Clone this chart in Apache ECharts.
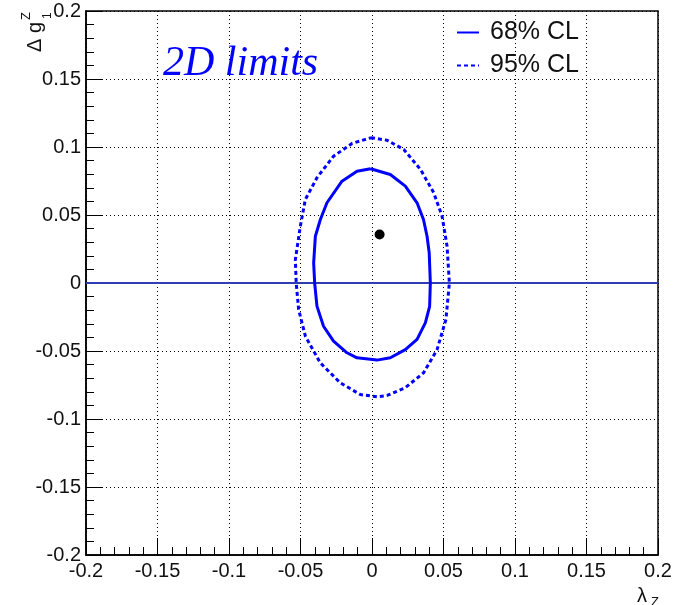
<!DOCTYPE html>
<html>
<head>
<meta charset="utf-8">
<script src="https://cdn.jsdelivr.net/npm/echarts@6/dist/echarts.min.js"></script>
<style>html,body{margin:0;padding:0;background:#fff;}#c{width:683px;height:605px;}</style>
</head>
<body>
<div id="c"></div>
<script>
// ---- data ----
const xTicks = [-0.2, -0.15, -0.1, -0.05, 0, 0.05, 0.1, 0.15, 0.2];
const yTicks = [-0.2, -0.15, -0.1, -0.05, 0, 0.05, 0.1, 0.15, 0.2];
const legendNames = ['68% CL', '95% CL'];
const contour68 = [
  [-0.001, 0.084], [0.0128, 0.0798], [0.0233, 0.0712], [0.0315, 0.059], [0.036, 0.0467],
  [0.0385, 0.0344], [0.040, 0.0222], [0.0408, 0.0], [0.0403, -0.0171], [0.0373, -0.0293],
  [0.0315, -0.0415], [0.0233, -0.049], [0.0128, -0.055], [0.0035, -0.0567], [-0.0105, -0.055],
  [-0.0175, -0.0513], [-0.0269, -0.0428], [-0.0339, -0.0318], [-0.0385, -0.017], [-0.0401, 0.0],
  [-0.0408, 0.0148], [-0.0396, 0.0344], [-0.0361, 0.0467], [-0.0315, 0.059], [-0.021, 0.0749],
  [-0.0105, 0.0822], [-0.001, 0.084]
];
const contour95 = [
  [-0.0007, 0.1068], [0.0105, 0.105], [0.0222, 0.0982], [0.0339, 0.0835], [0.0432, 0.0663],
  [0.049, 0.0491], [0.0525, 0.027], [0.0541, 0.0], [0.0517, -0.0268], [0.0455, -0.049],
  [0.0361, -0.066], [0.0233, -0.077], [0.0105, -0.0827], [0.0035, -0.0837], [-0.0082, -0.082],
  [-0.0222, -0.0734], [-0.0362, -0.0587], [-0.0466, -0.0391], [-0.0513, -0.0195], [-0.053, 0.0],
  [-0.0536, 0.0173], [-0.0501, 0.0418], [-0.0466, 0.0614], [-0.0385, 0.0774], [-0.0269, 0.0932],
  [-0.014, 0.1026], [-0.0007, 0.1068]
];
const bestFit = [[0.0053, 0.0357]];
const zeroLine = [[-0.2, 0], [0.2, 0]];

const FONT = 'Liberation Sans';
const chart = echarts.init(document.getElementById('c'), null, {renderer: 'canvas'});

function axisCommon(ticks) {
  return {
    type: 'value',
    min: ticks[0], max: ticks[ticks.length - 1], interval: ticks[1] - ticks[0],
    axisLine: {show: true, onZero: false, lineStyle: {color: '#000', width: 1.5}},
    axisTick: {show: true, inside: true, length: 17, lineStyle: {color: '#000', width: 1}},
    minorTick: {show: true, splitNumber: 5, length: 8, lineStyle: {color: '#000', width: 1}},
    splitLine: {show: true, lineStyle: {color: '#000', width: 1, type: [1, 3]}},
    axisLabel: {color: '#111', fontFamily: FONT, fontSize: 20, showMinLabel: true, showMaxLabel: true,
      formatter: v => String(Math.round(v * 1000) / 1000)}
  };
}

const xAxis = axisCommon(xTicks);
xAxis.axisLabel.margin = 6;
const yAxis = axisCommon(yTicks);
yAxis.axisLabel.margin = 5;

function legendFor(name, top) {
  return {data: [name], left: 451, top: top, orient: 'vertical', itemWidth: 22, itemHeight: 14,
    itemStyle: {opacity: 0},
    textStyle: {fontFamily: FONT, fontSize: 25, color: '#111', padding: [0, 0, 0, 6]}};
}

chart.setOption({
  animation: false,
  backgroundColor: '#fff',
  grid: {left: 86, right: 25, top: 11, bottom: 50, show: true, borderColor: '#000', borderWidth: 1.5, backgroundColor: 'transparent'},
  xAxis: xAxis,
  yAxis: yAxis,
  legend: [legendFor(legendNames[0], 15), legendFor(legendNames[1], 48)],
  series: [
    {type: 'line', name: 'zero', data: zeroLine, symbol: 'none', silent: true,
      lineStyle: {color: '#2f3db5', width: 2}, z: 1},
    {type: 'line', name: legendNames[1], data: contour95, symbol: 'none', smooth: false,
      lineStyle: {color: '#0000ff', width: 3, type: [4, 3]}, itemStyle: {color: '#0000ff'}, z: 3},
    {type: 'line', name: legendNames[0], data: contour68, symbol: 'none', smooth: false,
      lineStyle: {color: '#0000ff', width: 3}, itemStyle: {color: '#0000ff'}, z: 3},
    {type: 'scatter', name: 'best fit', data: bestFit, symbol: 'circle', symbolSize: 10,
      itemStyle: {color: '#000', opacity: 1}, z: 4}
  ],
  graphic: [
    {type: 'text', left: 163, top: 43, z: 10,
      style: {text: '2D limits', fill: '#0000ff', font: 'italic 42px "Liberation Serif"'}},
    // y-axis title: Δ g^Z_1 (rotated)
    {type: 'text', x: 35, y: 52, rotation: Math.PI / 2, z: 10,
      style: {text: 'Δ g', fill: '#111', font: '20px "Liberation Sans"', align: 'left', verticalAlign: 'middle'}},
    {type: 'text', x: 26, y: 20, rotation: Math.PI / 2, z: 10,
      style: {text: 'Z', fill: '#111', font: '13px "Liberation Sans"', align: 'left', verticalAlign: 'middle'}},
    {type: 'text', x: 48, y: 19, rotation: Math.PI / 2, z: 10,
      style: {text: '1', fill: '#111', font: '12px "Liberation Sans"', align: 'left', verticalAlign: 'middle'}},
    // x-axis title: λ_Z
    {type: 'text', x: 637, y: 596, z: 10,
      style: {text: 'λ', fill: '#111', font: '20px "Liberation Sans"', align: 'left', verticalAlign: 'middle'}},
    {type: 'text', x: 651, y: 602, z: 10,
      style: {text: 'Z', fill: '#111', font: '13px "Liberation Sans"', align: 'left', verticalAlign: 'middle'}}
  ]
});
</script>
</body>
</html>
